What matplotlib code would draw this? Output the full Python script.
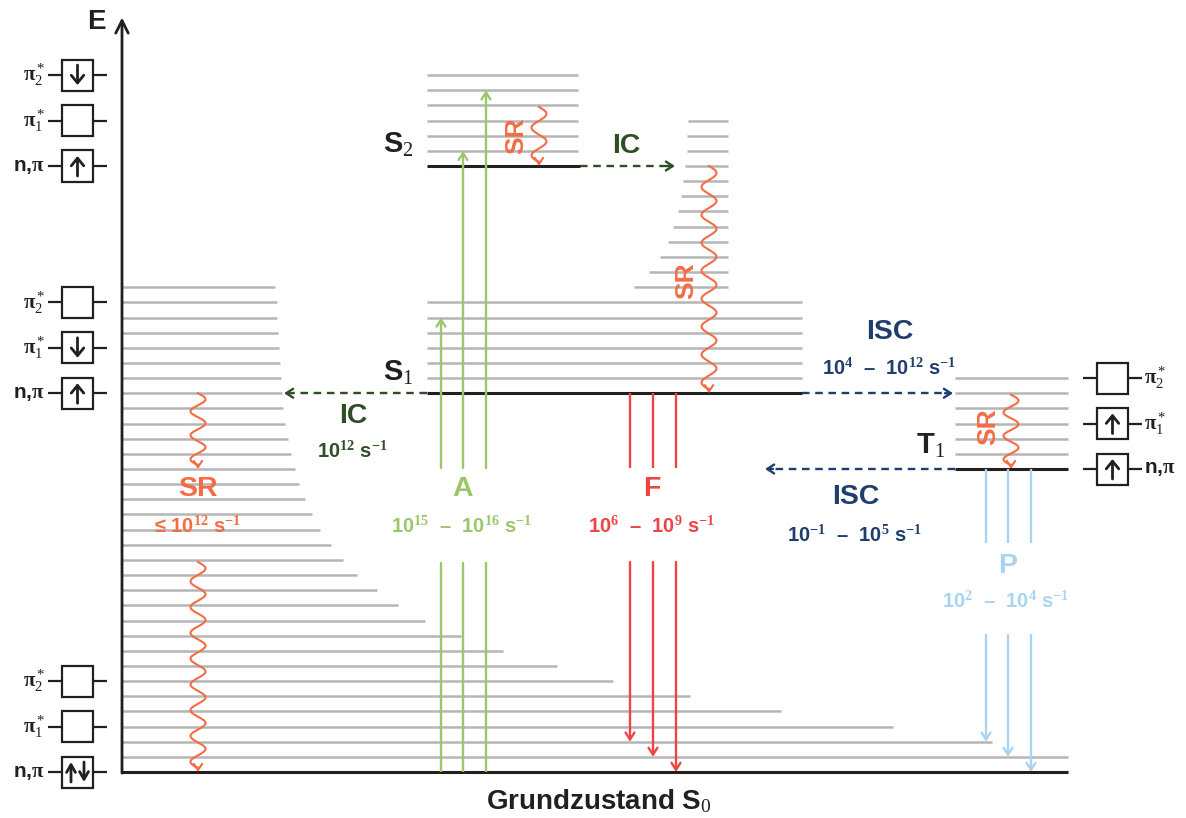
import numpy as np
import matplotlib.pyplot as plt
from matplotlib.patches import Rectangle

plt.rcParams['font.family'] = ['Liberation Sans', 'DejaVu Sans']
plt.rcParams['mathtext.fontset'] = 'custom'
plt.rcParams['mathtext.rm'] = 'Liberation Serif'
plt.rcParams['mathtext.it'] = 'Liberation Serif:italic'
plt.rcParams['mathtext.bf'] = 'Liberation Serif:bold'

# 颜色
GRAY = '#b5b5b5'
INK = '#231f20'
GREEN = '#9cc66b'
DKGREEN = '#2e4e25'
RED = '#ee4444'
ORANGE = '#f36c44'
DKBLUE = '#1f3e6e'
LTBLUE = '#a8d4f2'

# 能级（以振动能级间距为单位）
S0, T1, S1, S2 = 0, 20, 25, 40
s0_vib = np.arange(1, 33)
s0_vib_end = [1068, 992, 893, 781, 690, 613, 557, 503, 461, 425, 398, 377, 357, 343, 331, 320,
              312, 305, 299, 295, 291, 288, 285, 283, 282, 281, 280, 279, 278, 277, 277, 275]
s1_vib = np.arange(26, 32)
s1_hi_vib = np.arange(32, 44)
s1_hi_start = [634, 649, 660, 668, 673, 678, 681, 683, 685, 687, 687, 688]
s2_vib = np.arange(41, 47)
t1_vib = np.arange(21, 27)

# 跃迁：吸收 A、荧光 F、磷光 P
abs_x = [441, 463, 486]
abs_top = [30, 41, 45]
fl_x = [630, 653, 676]
fl_end = [2, 1, 0]
ph_x = [986, 1008, 1031]
ph_end = [2, 1, 0]

# 轨道占据（从上到下：π2*, π1*, n,π）
orb_labels = [r'$\mathbf{\pi}^*_2$', r'$\mathbf{\pi}^*_1$', r'n,$\mathbf{\pi}$']
left_groups = [[46, 43, 40], [31, 28, 25], [6, 3, 0]]
left_occ = [['↓', '', '↑'], ['', '↓', '↑'], ['', '', '↑↓']]
right_group = [26, 23, 20]
right_occ = ['', '↑', '↑']

# 速率标注
rates = {
    'IC': r'10$^{\mathbf{12}}$ s$^{\mathbf{-1}}$',
    'SR': r'≤ 10$^{\mathbf{12}}$ s$^{\mathbf{-1}}$',
    'A': r'10$^{\mathbf{15}}$  –  10$^{\mathbf{16}}$ s$^{\mathbf{-1}}$',
    'F': r'10$^{\mathbf{6}}$  –  10$^{\mathbf{9}}$ s$^{\mathbf{-1}}$',
    'ISC1': r'10$^{\mathbf{4}}$  –  10$^{\mathbf{12}}$ s$^{\mathbf{-1}}$',
    'ISC2': r'10$^{\mathbf{-1}}$  –  10$^{\mathbf{5}}$ s$^{\mathbf{-1}}$',
    'P': r'10$^{\mathbf{2}}$  –  10$^{\mathbf{4}}$ s$^{\mathbf{-1}}$',
}

fig = plt.figure(figsize=(11.86, 8.18), dpi=100)
ax = fig.add_axes([0, 0, 1, 1])
ax.set_xlim(0, 1186)
ax.set_ylim(-46 / 15.15, 772 / 15.15)
ax.axis('off')

LW_LEVEL = 1.8
LW_ARROW = 1.7


def hline(n, x0, x1, color=GRAY, lw=LW_LEVEL, **kw):
    ax.plot([x0, x1], [n, n], color=color, lw=lw, solid_capstyle='butt', **kw)


def arrow(x0, y0, x1, y1, color, lw=LW_ARROW, hw=0.32, hl=0.5):
    ax.annotate('', xy=(x1, y1), xytext=(x0, y0),
                arrowprops=dict(arrowstyle=f'->,head_length={hl},head_width={hw}',
                                color=color, lw=lw, shrinkA=0, shrinkB=0))


def vline(x, y0, y1, color, lw=LW_ARROW):
    ax.plot([x, x], [y0, y1], color=color, lw=lw, solid_capstyle='butt')


def dashed_arrow(x0, x1, n, color):
    d = 8 if x1 > x0 else -8
    ax.plot([x0, x1 - d], [n, n], color=color, lw=LW_ARROW, linestyle=(0, (3.2, 2.4)))
    arrow(x1 - d, n, x1, n, color)


def wavy(x0, n0, n1, amp=7.5, period=27 / 15.15):
    length = n0 - n1
    k = max(1, round(length / period))
    ys = np.linspace(n0, n1 + 0.25, 400)
    xs = x0 + amp * np.sin(2 * np.pi * k * (n0 - ys) / (length - 0.25))
    ax.plot(xs, ys, color=ORANGE, lw=1.5)
    arrow(x0, n1 + 0.3, x0, n1, ORANGE, lw=1.5, hw=0.3, hl=0.45)


# 振动能级
for n, x1 in zip(s0_vib, s0_vib_end):
    hline(n, 122, x1)
for n in s1_vib:
    hline(n, 427, 802)
for n, x0 in zip(s1_hi_vib, s1_hi_start):
    hline(n, x0, 728)
for n in s2_vib:
    hline(n, 427, 578)
for n in t1_vib:
    hline(n, 955, 1068)

# 电子态
hline(S0, 122, 1068, color=INK, lw=2.2)
hline(S1, 427, 802, color=INK, lw=2.2)
hline(S2, 427, 580, color=INK, lw=2.2)
hline(T1, 955, 1068, color=INK, lw=2.2)

# 能量轴
ax.annotate('', xy=(122, 49.8), xytext=(122, -0.07),
            arrowprops=dict(arrowstyle='->,head_length=0.9,head_width=0.45',
                            color=INK, lw=2.0, shrinkA=0, shrinkB=0))
ax.text(96, 49.5, 'E', ha='center', va='center', fontsize=20, fontweight='bold', color=INK)

# 吸收
gap_lo, gap_hi = 13.86, 20.07
for x, top in zip(abs_x, abs_top):
    vline(x, S0, gap_lo, GREEN)
    arrow(x, gap_hi, x, top, GREEN)

# 荧光
for x, end in zip(fl_x, fl_end):
    vline(x, S1, gap_hi, RED)
    arrow(x, gap_lo, x, end, RED)

# 磷光
for x, end in zip(ph_x, ph_end):
    vline(x, T1, (772 - 543) / 15.15, LTBLUE)
    arrow(x, (772 - 635) / 15.15, x, end, LTBLUE)

# 内转换与系间窜越
dashed_arrow(580, 675, S2, DKGREEN)
dashed_arrow(427, 284, S1, DKGREEN)
dashed_arrow(802, 953, S1, DKBLUE)
dashed_arrow(955, 765, T1, DKBLUE)

# 振动弛豫
wavy(539, 43.9, S2)
wavy(709, S2, S1)
wavy(1011, 24.9, T1)
wavy(198, S1, T1)
wavy(198, gap_lo, S0)

# 态标注
ax.text(383, 40.9, r'S$_2$', ha='left', va='baseline', fontsize=21, fontweight='bold', color=INK)
ax.text(383, 25.8, r'S$_1$', ha='left', va='baseline', fontsize=21, fontweight='bold', color=INK)
ax.text(916, 21.0, r'T$_1$', ha='left', va='baseline', fontsize=21, fontweight='bold', color=INK)
ax.text(599, -2.44, r'Grundzustand S$_0$', ha='center', va='baseline', fontsize=20,
        fontweight='bold', color=INK)

# 过程标注
big = dict(ha='center', va='center', fontsize=20.5, fontweight='bold')
small = dict(ha='center', va='baseline', fontsize=14.5, fontweight='bold')
ax.text(626, 41.35, 'IC', color=DKGREEN, **big)
ax.text(353, 23.53, 'IC', color=DKGREEN, **big)
ax.text(352, 20.73, rates['IC'], color=DKGREEN, **small)
ax.text(198, 18.7, 'SR', color=ORANGE, **big)
ax.text(198, 15.77, rates['SR'], color=ORANGE, **small)
ax.text(463, 18.65, 'A', color=GREEN, **big)
ax.text(462, 15.78, rates['A'], color=GREEN, **small)
ax.text(652, 18.65, 'F', color=RED, **big)
ax.text(652, 15.78, rates['F'], color=RED, **small)
ax.text(890, 29.07, 'ISC', color=DKBLUE, **big)
ax.text(889, 26.2, rates['ISC1'], color=DKBLUE, **small)
ax.text(856, 18.12, 'ISC', color=DKBLUE, **big)
ax.text(855, 15.18, rates['ISC2'], color=DKBLUE, **small)
ax.text(1008, 13.63, 'P', color=LTBLUE, **big)
ax.text(1006, 10.83, rates['P'], color=LTBLUE, **small)

for x, n in [(516, 42.0), (686, 32.44), (988, 22.8)]:
    ax.text(x, n, 'SR', rotation=90, ha='center', va='center', fontsize=19,
            fontweight='bold', color=ORANGE)

# 轨道示意
BOX_W, BOX_H = 31, 31 / 15.15


def orbital_box(xb, n, occ):
    ax.add_patch(Rectangle((xb, n - BOX_H / 2), BOX_W, BOX_H, fill=False,
                           edgecolor=INK, lw=1.6))
    hline(n, xb - 14, xb, color=INK, lw=1.6)
    hline(n, xb + BOX_W, xb + BOX_W + 14, color=INK, lw=1.6)
    xc = xb + BOX_W / 2
    if len(occ) == 1:
        offs, hw = [0], 0.45
    else:
        offs, hw = [-6.5, 6.5], 0.32
    for dx, sym in zip(offs, occ):
        up = sym == '↑'
        y0, y1 = (n - 0.66, n + 0.66) if up else (n + 0.66, n - 0.66)
        arrow(xc + dx, y0, xc + dx, y1, INK, lw=2.0, hw=hw, hl=0.55)


for levels, occs in zip(left_groups, left_occ):
    for n, occ, lab in zip(levels, occs, orb_labels):
        orbital_box(62, n, occ)
        ax.text(45, n, lab, ha='right', va='center', fontsize=15, fontweight='bold', color=INK)

for n, occ, lab in zip(right_group, right_occ, orb_labels):
    orbital_box(1097, n, occ)
    ax.text(1144, n, lab, ha='left', va='center', fontsize=15, fontweight='bold', color=INK)

fig.savefig('out.png', dpi=100)
